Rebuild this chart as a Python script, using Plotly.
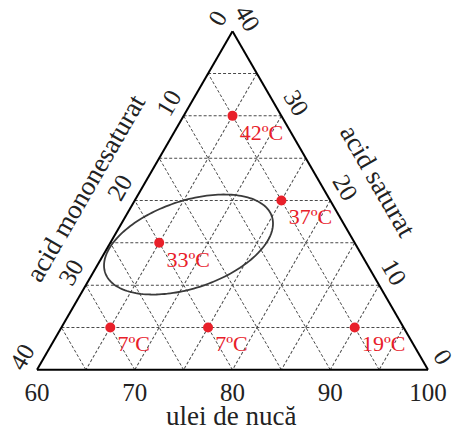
import plotly.graph_objects as go
import numpy as np

# ---- data ----
labels = ["42ºC", "37ºC", "33ºC", "7ºC", "7ºC", "19ºC"]
saturat = [30, 20, 15, 5, 5, 5]          # acid saturat (top corner)
mononesaturat = [5, 5, 20, 30, 20, 5]    # acid mononesaturat (bottom-left corner)
ulei = [65, 75, 65, 65, 75, 90]          # ulei de nucă (bottom-right corner)

# tick labels
a_vals = [0, 5, 10, 15, 20, 25, 30, 35, 40]
a_text = ["40", "", "30", "", "20", "", "10", "", "0"]
b_vals = [0, 5, 10, 15, 20, 25, 30, 35, 40]
b_text = ["100", "", "90", "", "80", "", "70", "", "60"]
c_vals = [60, 65, 70, 75, 80, 85, 90, 95, 100]
c_text = ["40", "", "30", "", "20", "", "10", "", "0"]

# ellipse (region) centre in ternary units, semi-axes in side units, tilt
ell_center = (14.8, 17.1, 68.1)   # saturat, mononesaturat, ulei
ell_axes = (9.0, 4.46)
ell_angle = 18.7

# ---- ellipse conversion ----
s0, m0, u0 = ell_center
X0 = (u0 - 60) + s0 / 2
Y0 = s0 * np.sqrt(3) / 2
t = np.linspace(0, 2 * np.pi, 181)
th = np.radians(ell_angle)
ex = X0 + ell_axes[0] * np.cos(t) * np.cos(th) - ell_axes[1] * np.sin(t) * np.sin(th)
ey = Y0 + ell_axes[0] * np.cos(t) * np.sin(th) + ell_axes[1] * np.sin(t) * np.cos(th)
e_sat = ey * 2 / np.sqrt(3)
e_ul = ex - e_sat / 2
e_mono = 40 - e_sat - e_ul

FONT = "Liberation Serif"
RED = "#e8202a"

fig = go.Figure()
fig.add_trace(go.Scatterternary(
    a=e_sat, b=e_mono, c=e_ul + 60, mode="lines",
    line=dict(color="#3a3a3a", width=1.8), hoverinfo="skip", showlegend=False))
fig.add_trace(go.Scatterternary(
    a=saturat, b=mononesaturat, c=ulei, mode="markers+text",
    text=labels, textposition="bottom right",
    textfont=dict(family=FONT, size=22, color=RED),
    marker=dict(color=RED, size=10), showlegend=False))

axis_common = dict(
    showline=True, linecolor="black", linewidth=2,
    showgrid=True, gridcolor="#4a4a4a", gridwidth=1, griddash="3px,2px",
    ticks="", tickmode="array", title=dict(text=""),
    tickfont=dict(family=FONT, size=25, color="#222"),
)
fig.update_layout(
    width=453, height=430,
    margin=dict(l=37, r=25, t=31, b=60),
    paper_bgcolor="white",
    ternary=dict(
        sum=100, bgcolor="white",
        aaxis=dict(min=0, tickvals=a_vals, ticktext=a_text, tickangle=-60, **axis_common),
        baxis=dict(min=0, tickvals=b_vals, ticktext=b_text, tickangle=0, **axis_common),
        caxis=dict(min=60, tickvals=c_vals, ticktext=c_text, tickangle=60, **axis_common),
    ),
    annotations=[
        dict(text="acid mononesaturat", x=(85.5 - 37) / 391, y=(370 - 188) / 339,
             xref="paper", yref="paper", showarrow=False, textangle=-60,
             xanchor="center", yanchor="middle",
             font=dict(family=FONT, size=27, color="#222")),
        dict(text="acid saturat", x=(378 - 37) / 391, y=(370 - 181) / 339,
             xref="paper", yref="paper", showarrow=False, textangle=60,
             xanchor="center", yanchor="middle",
             font=dict(family=FONT, size=27, color="#222")),
        dict(text="ulei de nucă", x=(231 - 37) / 391, y=(370 - 416) / 339,
             xref="paper", yref="paper", showarrow=False,
             xanchor="center", yanchor="middle",
             font=dict(family=FONT, size=27, color="#222")),
    ],
)
fig.write_html("out.html")
